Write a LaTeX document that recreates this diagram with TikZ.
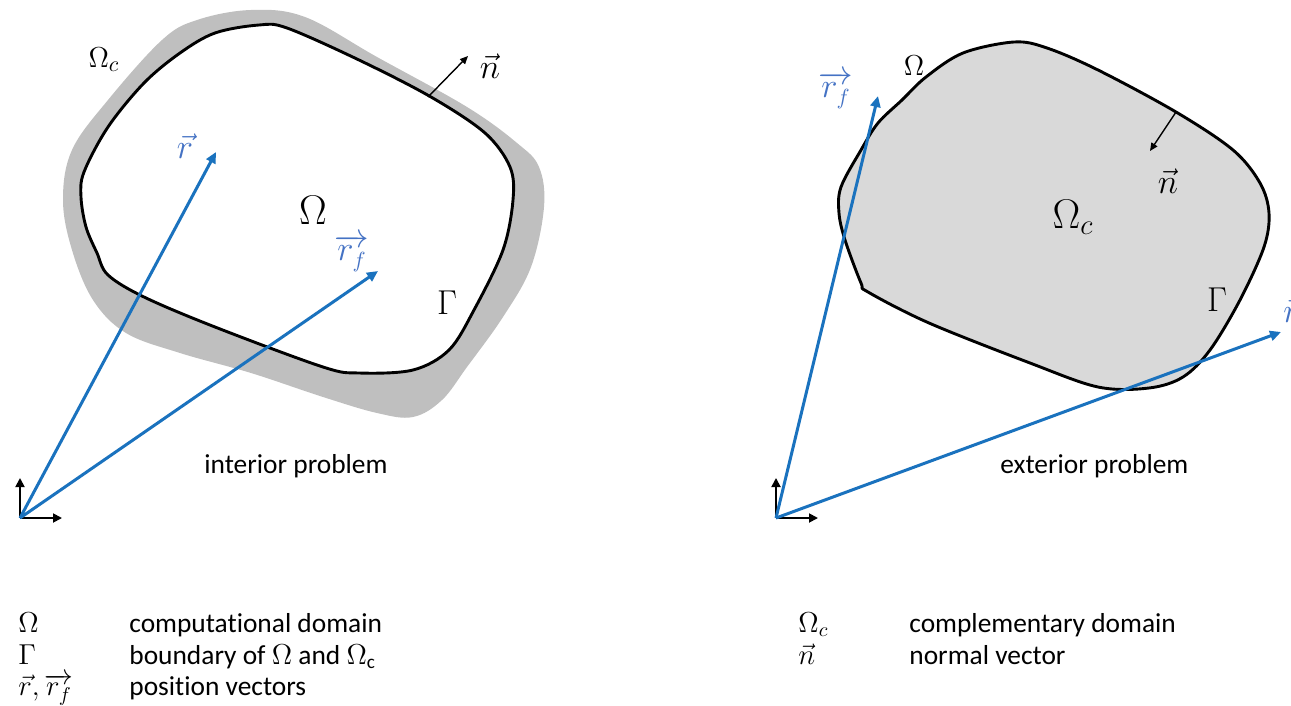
\documentclass[tikz,border=0pt]{standalone}
\usepackage{fontspec}
\setmainfont{Carlito}[Ligatures=NoCommon]
\usetikzlibrary{arrows.meta}
\definecolor{vblue}{HTML}{1A72BE}
\definecolor{lblue}{HTML}{4472C4}
\definecolor{ringc}{HTML}{BFBFBF}
\definecolor{fillc}{HTML}{D9D9D9}
\newcommand{\rfvec}{\overrightarrow{r_{\lower1pt\hbox{$\scriptstyle f$}}}}
\begin{document}
\begin{tikzpicture}[x=0.5pt,y=-0.5pt,
  bnd/.style={line width=1.45pt, black, line join=round},
  pvec/.style={vblue, line width=1.5pt, -{Triangle[length=5.5pt,width=5pt]}},
  nvec/.style={black, line width=0.7pt, -{Triangle[length=4pt,width=3.5pt]}},
  axv/.style={black, line width=0.9pt, -{Triangle[length=4.5pt,width=4.5pt]}},
  vlab/.style={lblue, inner sep=0pt, font=\fontsize{16}{18}\selectfont},
  big/.style={inner sep=0pt, font=\fontsize{22}{24}\selectfont},
  mid/.style={inner sep=0pt, font=\fontsize{15}{17}\selectfont},
  txt/.style={inner sep=0pt, anchor=base west, font=\fontsize{13.7}{15}\selectfont}]
\useasboundingbox (0,0) rectangle (1291,706);

% ---------- left: interior problem ----------
\fill[ringc] plot[smooth cycle, tension=0.6] coordinates {
 (162,40) (197,20) (251,10) (305,17) (377,57) (467,107) (517,143) (539,167)
 (544,207) (531,267) (503,317) (467,367) (442,400) (413,417) (377,413)
 (323,397) (251,373) (180,353) (126,333) (93,300) (72,250) (63,200) (72,150) (108,100)};
\draw[bnd, fill=white] plot[smooth cycle, tension=0.55] coordinates {
 (84,172) (108,127) (144,83) (180,53) (215,33) (259,25) (287,28) (359,60)
 (431,97) (485,133) (510,167) (513,200) (503,250) (474,310) (449,350)
 (413,370) (359,373) (323,367) (215,327) (144,297) (108,275) (97,253)
 (86,227) (81,197)};

\coordinate (O1) at (20,518);
\coordinate (r1) at (216,152);
\coordinate (rf1) at (378,271);
\coordinate (nb1) at (428,97);
\coordinate (nt1) at (468,56);
\draw[axv] (O1) -- ++(0,-40) coordinate (y1);
\draw[axv] (O1) -- ++(42,0) coordinate (x1);
\draw[pvec] (O1) -- (r1);
\draw[pvec] (O1) -- (rf1);
\draw[nvec] (nb1) -- (nt1);

\node[mid] (Oc1) at (104,60) {$\Omega_c$};
\node[big] (Om1) at (313,210) {$\Omega$};
\node[vlab] (rl1) at (185,146) {$\vec r$};
\node[vlab] (rfl1) at (352,253) {$\rfvec$};
\node[big, font=\fontsize{19}{21}\selectfont] (G1) at (447,303) {$\Gamma$};
\node[vlab, black] (nl1) at (490,66) {$\vec n$};
\node[txt] (ip) at (204,473) {interior problem};

% ---------- right: exterior problem ----------
\draw[bnd, fill=fillc] plot[smooth cycle, tension=0.55] coordinates {
 (1014,42) (1047,48) (1098,70) (1176,112) (1233,150) (1260,183) (1269,213)
 (1264,247) (1240,300) (1210,350) (1183,377) (1149,388) (1098,387)
 (1030,363) (929,323) (868,292) (861,283) (845,240) (839,213) (841,187)
 (861,150) (878,123) (902,100) (926,77) (963,53)};

\coordinate (O2) at (776,518);
\coordinate (rf2) at (878,96);
\coordinate (r2) at (1281,332);
\coordinate (nb2) at (1176,112);
\coordinate (nt2) at (1150,151);
\draw[axv] (O2) -- ++(0,-40) coordinate (y2);
\draw[axv] (O2) -- ++(42,0) coordinate (x2);
\draw[pvec] (O2) -- (rf2);
\draw[pvec] (O2) -- (r2);
\draw[nvec] (nb2) -- (nt2);

\node[mid] (Om2) at (914,66) {$\Omega$};
\node[vlab] (rfl2) at (836,90) {$\rfvec$};
\node[vlab, black] (nl2) at (1168,181) {$\vec n$};
\node[big] (Oc2) at (1073,217) {$\Omega_c$};
\node[big, font=\fontsize{19}{21}\selectfont] (G2) at (1217,300) {$\Gamma$};
\node[vlab, anchor=west] (rl2) at (1283,310) {$\vec r$};
\node[txt] (ep) at (1000,473) {exterior problem};

% ---------- legends ----------
\node[txt] (k1) at (18,632) {$\Omega$};
\node[txt] (v1) at (129,632) {computational domain};
\node[txt] (k2) at (18,664) {$\Gamma$};
\node[txt] (v2) at (129,664) {boundary of $\Omega$ and $\Omega$\textsubscript{c}};
\node[txt] (k3) at (18,695) {$\vec r,\rfvec$};
\node[txt] (v3) at (129,695) {position vectors};
\node[txt] (k4) at (798,632) {$\Omega_c$};
\node[txt] (v4) at (909,632) {complementary domain};
\node[txt] (k5) at (798,664) {$\vec n$};
\node[txt] (v5) at (909,664) {normal vector};
\end{tikzpicture}
\end{document}
